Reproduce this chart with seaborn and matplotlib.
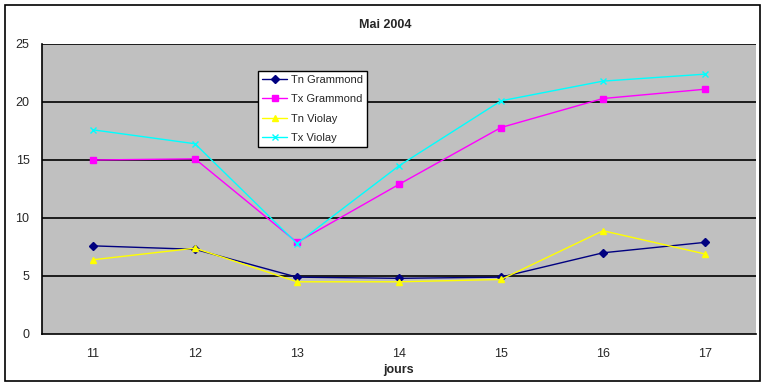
import matplotlib
matplotlib.use("Agg")
import matplotlib.pyplot as plt
from matplotlib.patches import Rectangle
import seaborn as sns
import pandas as pd
import numpy as np

days = ["11", "12", "13", "14", "15", "16", "17"]
tn_grammond = [7.6, 7.3, 4.9, 4.8, 4.9, 7.0, 7.9]
tx_grammond = [15.0, 15.1, 7.9, 12.9, 17.8, 20.3, 21.1]
tn_violay = [6.4, 7.4, 4.5, 4.5, 4.7, 8.9, 6.9]
tx_violay = [17.6, 16.4, 7.8, 14.5, 20.1, 21.8, 22.4]
series_names = ["Tn Grammond", "Tx Grammond", "Tn Violay", "Tx Violay"]
colors = ["#000080", "#FF00FF", "#FFFF00", "#00FFFF"]
markers = ["D", "s", "^", "x"]
msizes = [4, 5, 5, 5]

sns.set_style("white")
plt.rcParams["font.family"] = ["Liberation Sans", "DejaVu Sans"]

rows = []
for name, vals in zip(series_names, [tn_grammond, tx_grammond, tn_violay, tx_violay]):
    for i, v in enumerate(vals):
        rows.append({"pos": i, "val": v, "serie": name})
df = pd.DataFrame(rows)

fig = plt.figure(figsize=(7.66, 3.86), dpi=100)
ax = fig.add_axes([42/766, 52/386, 714/766, 290/386])
ax.set_facecolor("#C0C0C0")

for name, c, m, ms in zip(series_names, colors, markers, msizes):
    sub = df[df["serie"] == name]
    sns.lineplot(data=sub, x="pos", y="val", ax=ax, color=c, marker=m,
                 markersize=ms, markeredgecolor=c, markerfacecolor=c,
                 linewidth=1.0, label=name, markeredgewidth=1.0)

ax.set_xlim(-0.5, 6.5)
ax.set_ylim(0, 25)
ax.set_yticks([0, 5, 10, 15, 20, 25])
ax.set_yticklabels(["0", "5", "10", "15", "20", "25"], fontsize=9)
ax.set_xticks(range(7))
ax.set_xticklabels(days, fontsize=9)
ax.set_xticks(np.arange(-0.5, 7, 1), minor=True)
ax.tick_params(axis="x", which="major", length=0, pad=10)
ax.tick_params(axis="x", which="minor", length=5, width=1, color="black", direction="out")
ax.tick_params(axis="y", which="major", length=5, width=1, color="black", direction="out", pad=4)
for y in [5, 10, 15, 20, 25]:
    ax.axhline(y, color="black", linewidth=1.2, zorder=0.5)

for s in ["top", "right"]:
    ax.spines[s].set_visible(False)
ax.spines["left"].set_color("black")
ax.spines["bottom"].set_color("black")
ax.spines["left"].set_linewidth(1.2)
ax.spines["bottom"].set_linewidth(1.2)

ax.set_xlabel("jours", fontsize=9, fontweight="bold", labelpad=3)
ax.set_ylabel("")
fig.text(385/766, 1 - 25/386, "Mai 2004", ha="center", va="center", fontsize=9, fontweight="bold")

leg = ax.legend(loc="upper left", bbox_to_anchor=(258/766, 1 - 71/386), bbox_transform=fig.transFigure,
                fontsize=8, frameon=True, fancybox=False, framealpha=1, edgecolor="black",
                borderpad=0.35, labelspacing=0.85, handlelength=2.3, handletextpad=0.3,
                borderaxespad=0)
leg.get_frame().set_linewidth(1.0)

fig.patches.append(Rectangle((5/766, 5/386), 755/766, 376/386, fill=False, edgecolor="black",
                             linewidth=1.2, transform=fig.transFigure, figure=fig))

fig.savefig("out.png", dpi=100, facecolor="white")
